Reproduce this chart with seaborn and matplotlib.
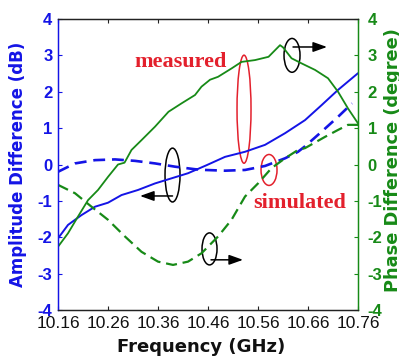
import numpy as np
import pandas as pd
import matplotlib
matplotlib.use("Agg")
import matplotlib.pyplot as plt
from matplotlib.patches import Ellipse
import seaborn as sns

# Amplitude difference (dB), left axis
amp_meas_freq = [10.160, 10.180, 10.207, 10.234, 10.260, 10.287, 10.320, 10.354, 10.387, 10.420,
                 10.457, 10.494, 10.534, 10.574, 10.614, 10.654, 10.687, 10.720, 10.760]
amp_meas_val = [-2.03, -1.66, -1.39, -1.16, -1.05, -0.84, -0.70, -0.52, -0.38, -0.24,
                -0.02, 0.21, 0.35, 0.54, 0.86, 1.22, 1.63, 2.05, 2.51]

amp_sim_freq = [10.160, 10.194, 10.234, 10.274, 10.314, 10.354, 10.394, 10.434, 10.454, 10.494,
                10.534, 10.574, 10.614, 10.640, 10.654, 10.687, 10.720, 10.748]
amp_sim_val = [-0.20, 0.03, 0.12, 0.14, 0.10, 0.03, -0.06, -0.13, -0.15, -0.17,
               -0.15, -0.04, 0.17, 0.35, 0.50, 0.90, 1.31, 1.68]

# Phase difference (degree), right axis
ph_meas_freq = [10.160, 10.180, 10.200, 10.220, 10.240, 10.260, 10.280, 10.293, 10.307, 10.327,
                10.354, 10.381, 10.407, 10.434, 10.447, 10.464, 10.480, 10.507, 10.527, 10.554,
                10.581, 10.604, 10.610, 10.627, 10.647, 10.674, 10.700, 10.720, 10.740, 10.760]
ph_meas_val = [-2.26, -1.89, -1.43, -0.98, -0.70, -0.34, 0.00, 0.05, 0.40, 0.67,
               1.04, 1.45, 1.68, 1.91, 2.14, 2.33, 2.41, 2.64, 2.82, 2.87,
               2.96, 3.28, 3.22, 2.92, 2.78, 2.60, 2.37, 2.00, 1.54, 1.13]

ph_sim_freq = [10.160, 10.194, 10.227, 10.260, 10.294, 10.327, 10.360, 10.390, 10.420, 10.447,
               10.480, 10.507, 10.534, 10.560, 10.587, 10.614, 10.640, 10.654, 10.694, 10.720,
               10.740, 10.760]
ph_sim_val = [-0.56, -0.79, -1.16, -1.52, -1.98, -2.40, -2.67, -2.76, -2.67, -2.44,
              -1.98, -1.52, -0.88, -0.52, -0.10, 0.17, 0.40, 0.45, 0.76, 0.95,
              1.09, 1.09]

freq_ticks = [10.16, 10.26, 10.36, 10.46, 10.56, 10.66, 10.76]
freq_tick_labels = ["10.16", "10.26", "10.36", "10.46", "10.56", "10.66", "10.76"]
y_ticks = [-4, -3, -2, -1, 0, 1, 2, 3, 4]

sns.set_theme(style="white")
plt.rcParams["font.family"] = ["DejaVu Sans"]

BLUE = "#1414e6"
GREEN = "#178a17"
RED = "#e3202c"
ARIAL = ["Liberation Sans", "DejaVu Sans"]

fig = plt.figure(figsize=(3.99, 3.58), dpi=100)
ax = fig.add_axes([0.1454, 0.134, 0.7519, 0.813])
ax2 = ax.twinx()

amp_meas = pd.DataFrame({"f": amp_meas_freq, "v": amp_meas_val})
amp_sim = pd.DataFrame({"f": amp_sim_freq, "v": amp_sim_val})
ph_meas = pd.DataFrame({"f": ph_meas_freq, "v": ph_meas_val})
ph_sim = pd.DataFrame({"f": ph_sim_freq, "v": ph_sim_val})

sns.lineplot(data=amp_meas, x="f", y="v", ax=ax, color=BLUE, lw=1.4)
sns.lineplot(data=amp_sim, x="f", y="v", ax=ax, color=BLUE, lw=1.9)
ax.lines[-1].set_dashes([4.5, 2.6])
sns.lineplot(data=ph_meas, x="f", y="v", ax=ax2, color=GREEN, lw=1.3)
sns.lineplot(data=ph_sim, x="f", y="v", ax=ax2, color=GREEN, lw=1.6)
ax2.lines[-1].set_dashes([5, 2.6])

for a in (ax, ax2):
    a.set_xlim(10.16, 10.76)
    a.set_ylim(-4, 4)
    a.set_yticks(y_ticks)

ax.set_xticks(freq_ticks)
ax.set_xticklabels(freq_tick_labels, fontsize=12.5, color="#111111", family=ARIAL)
ax.set_yticklabels([str(t) for t in y_ticks], fontsize=12, fontweight="bold",
                   color=BLUE, family=ARIAL)
ax2.set_yticklabels([str(t) for t in y_ticks], fontsize=12, fontweight="bold",
                    color=GREEN, family=ARIAL)

ax.tick_params(axis="x", direction="in", length=3, width=0.8, color="#222222",
               top=True, bottom=True, pad=4)
ax.tick_params(axis="y", direction="in", length=3, width=0.8, color=BLUE, left=True, pad=4)
ax2.tick_params(axis="y", direction="in", length=3, width=0.8, color=GREEN, right=True, pad=7)

for a in (ax, ax2):
    for s in a.spines.values():
        s.set_linewidth(0.9)
    a.spines["top"].set_color("#222222")
    a.spines["bottom"].set_color("#222222")
    a.spines["left"].set_color(BLUE)
    a.spines["right"].set_color(GREEN)

ax.set_xlabel("Frequency (GHz)", fontsize=13, fontweight="bold", color="#111111")
ax.xaxis.set_label_coords(0.478, -0.096)
ax.set_ylabel("Amplitude Difference (dB)", fontsize=12, fontweight="bold", color=BLUE)
ax.yaxis.set_label_coords(-0.103, 0.5)
ax2.set_ylabel("Phase Difference (degree)", fontsize=12.8, fontweight="bold", color=GREEN)
lab = ax2.yaxis.label
lab.set_horizontalalignment("left")
lab.set_verticalalignment("top")
ax2.yaxis.set_label_coords(1.088, 0.062)

# annotations
serif = ["Liberation Serif", "DejaVu Serif"]
ax.text(10.312, 2.82, "measured", color=RED, fontsize=16, fontweight="bold",
        family=serif, ha="left", va="center")
ax.text(10.550, -1.06, "simulated", color=RED, fontsize=16, fontweight="bold",
        family=serif, ha="left", va="center")

ax.add_patch(Ellipse((10.532, 1.52), 0.028, 2.97, fill=False, ec=RED, lw=1.1))
ax.add_patch(Ellipse((10.582, -0.15), 0.032, 0.85, fill=False, ec=RED, lw=1.1))

ax.add_patch(Ellipse((10.389, -0.29), 0.030, 1.48, fill=False, ec="black", lw=1.1))
ax.add_patch(Ellipse((10.628, 3.00), 0.032, 0.93, fill=False, ec="black", lw=1.1))
ax.add_patch(Ellipse((10.463, -2.32), 0.030, 0.88, fill=False, ec="black", lw=1.1))

arrow = dict(arrowstyle="-|>,head_length=0.7,head_width=0.25", color="black", lw=1.1,
             shrinkA=0, shrinkB=0)
ax.annotate("", xy=(10.324, -0.865), xytext=(10.389, -0.865), arrowprops=arrow)
ax.annotate("", xy=(10.698, 3.23), xytext=(10.630, 3.23), arrowprops=arrow)
ax.annotate("", xy=(10.530, -2.62), xytext=(10.466, -2.62), arrowprops=arrow)

fig.savefig("out.png", dpi=100)
